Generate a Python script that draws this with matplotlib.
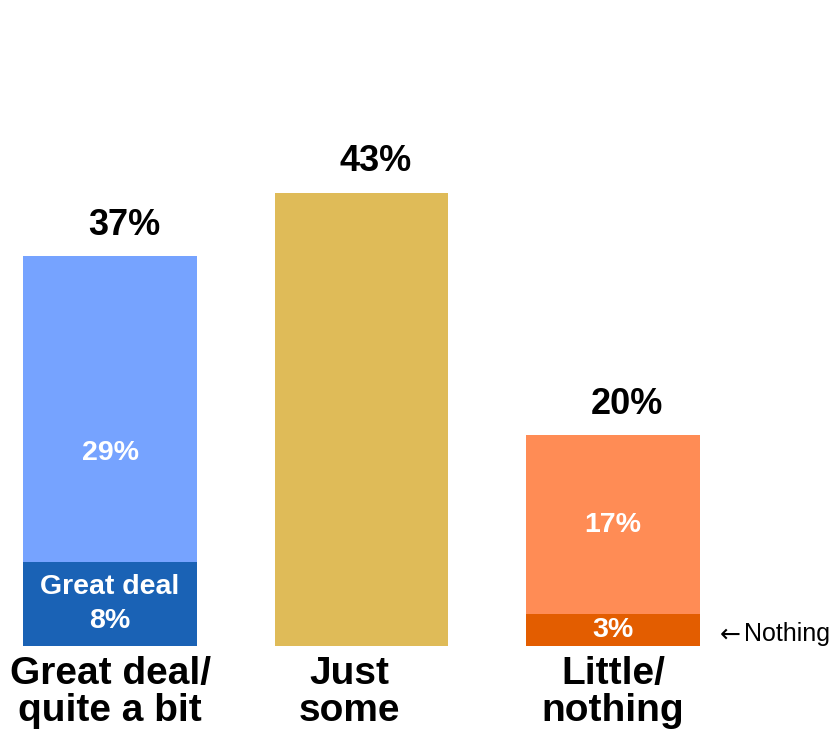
import matplotlib.pyplot as plt

plt.rcParams['font.family'] = ['Liberation Sans', 'DejaVu Sans']

# data
categories = ['Great deal/\nquite a bit', 'Just\nsome', 'Little/\nnothing']
totals = [37, 43, 20]
bottom_part = [8, 0, 3]          # "Great deal" / "Nothing"
upper_part = [29, 43, 17]
bottom_labels = ['Great deal\n8%', '', '3%']
upper_labels = ['29%', '', '17%']

# colours
upper_colors = ['#76A3FF', '#DFBB58', '#FF8C55']
bottom_colors = ['#1A62B5', '#DFBB58', '#E35D00']

fig = plt.figure(figsize=(8.35, 7.3), dpi=100)
ax = fig.add_axes([0, 84 / 730, 1, 646 / 730])

x = range(len(categories))
ax.bar(x, bottom_part, width=0.69, color=bottom_colors)
ax.bar(x, upper_part, width=0.69, bottom=bottom_part, color=upper_colors)

ax.set_xlim(-110 / 251.5, 725 / 251.5)
ax.set_ylim(0, 61.35)
ax.axis('off')

# totals on top (a little right of centre, as in the original)
for i, t in enumerate(totals):
    ax.annotate(f'{t}%', (i, t), xytext=(10, 10), textcoords='offset points',
                ha='center', va='bottom', fontsize=26, fontweight='bold')

# inner labels (29% sits a bit low in the original)
upper_y = [bottom_part[0] + upper_part[0] * 0.355, 0, bottom_part[2] + upper_part[2] / 2]
for i, lab in enumerate(upper_labels):
    if lab:
        ax.text(i, upper_y[i], lab, ha='center', va='center', color='white',
                fontsize=20.5, fontweight='bold')
for i, lab in enumerate(bottom_labels):
    if lab:
        ax.text(i, bottom_part[i] / 2, lab, ha='center', va='center', color='white',
                fontsize=20.5, fontweight='bold', linespacing=1.4)

# side note: arrow + word
ax.annotate('\u2190', (2, bottom_part[2] / 2), xytext=(77, -3),
            textcoords='offset points', ha='left', va='center', fontsize=18,
            family='DejaVu Sans')
ax.annotate('Nothing', (2, bottom_part[2] / 2), xytext=(94, -3),
            textcoords='offset points', ha='left', va='center', fontsize=18)

# category labels under the bars
label_shift = [0, -9, 0]
for i, c in enumerate(categories):
    ax.annotate(c, (i, 0), xytext=(label_shift[i], -7), textcoords='offset points',
                ha='center', va='top', fontsize=28, fontweight='bold',
                linespacing=1.05, annotation_clip=False)

plt.savefig('out.png', dpi=100)
plt.close()
